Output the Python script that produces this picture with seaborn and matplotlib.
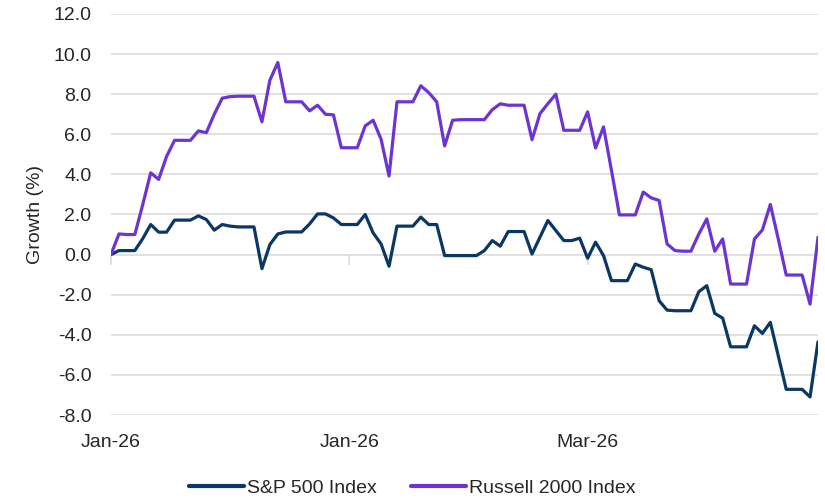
import pandas as pd
import numpy as np
import matplotlib
matplotlib.use("Agg")
import matplotlib.pyplot as plt
import seaborn as sns

# ==========================================
# data: daily growth (%) since 1 Jan 2026, weekends carried forward
# ==========================================
sp500 = [
    0.0, 0.2, 0.2, 0.2, 0.8, 1.5, 1.12, 1.12, 1.72, 1.72,
    1.72, 1.93, 1.75, 1.22, 1.5, 1.42, 1.38, 1.38, 1.38, -0.7,
    0.5, 1.03, 1.13, 1.13, 1.13, 1.53, 2.03, 2.03, 1.83, 1.5,
    1.5, 1.5, 2.0, 1.08, 0.53, -0.58, 1.42, 1.42, 1.42, 1.87,
    1.5, 1.5, -0.05, -0.05, -0.05, -0.05, -0.05, 0.2, 0.7, 0.42,
    1.15, 1.15, 1.15, 0.03, 0.87, 1.7, 1.2, 0.7, 0.7, 0.82,
    -0.18, 0.62, -0.05, -1.3, -1.3, -1.3, -0.47, -0.63, -0.75, -2.3,
    -2.77, -2.8, -2.8, -2.8, -1.85, -1.55, -2.93, -3.17, -4.6, -4.6,
    -4.6, -3.55, -3.93, -3.38, -5.05, -6.72, -6.72, -6.72, -7.1, -4.35,
]
russell = [
    0.0, 1.03, 1.0, 1.0, 2.5, 4.08, 3.75, 4.9, 5.7, 5.7,
    5.7, 6.17, 6.08, 7.0, 7.8, 7.88, 7.9, 7.9, 7.9, 6.62,
    8.7, 9.58, 7.62, 7.62, 7.62, 7.17, 7.45, 7.0, 6.97, 5.33,
    5.33, 5.33, 6.42, 6.7, 5.75, 3.92, 7.62, 7.62, 7.62, 8.42,
    8.08, 7.62, 5.42, 6.7, 6.73, 6.73, 6.73, 6.73, 7.23, 7.52,
    7.45, 7.45, 7.45, 5.73, 7.03, 7.53, 8.0, 6.2, 6.2, 6.2,
    7.12, 5.32, 6.37, 4.2, 1.98, 1.98, 1.98, 3.12, 2.83, 2.7,
    0.53, 0.2, 0.17, 0.17, 1.03, 1.78, 0.17, 0.78, -1.47, -1.47,
    -1.47, 0.78, 1.23, 2.5, 0.78, -1.02, -1.02, -1.02, -2.47, 0.87,
]
series_names = ["S&P 500 Index", "Russell 2000 Index"]
series_colors = ["#0B3764", "#6C35D2"]
tick_days = [0, 30, 60]
tick_labels = ["Jan-26", "Jan-26", "Mar-26"]
y_ticks = [-8, -6, -4, -2, 0, 2, 4, 6, 8, 10, 12]

day = np.arange(len(sp500))
df = pd.concat([
    pd.DataFrame({"day": day, "growth": sp500, "series": series_names[0]}),
    pd.DataFrame({"day": day, "growth": russell, "series": series_names[1]}),
])

# ==========================================
# style
# ==========================================
sns.set_style("white")
plt.rcParams["font.family"] = ["Liberation Sans", "DejaVu Sans"]
plt.rcParams["font.size"] = 14
TEXT = "#262626"
GRID = "#D9D9D9"

fig = plt.figure(figsize=(8.25, 5), dpi=100)
ax = fig.add_axes([111 / 825, 1 - 415 / 500, 707 / 825, 401 / 500])

sns.lineplot(
    data=df, x="day", y="growth", hue="series",
    palette=dict(zip(series_names, series_colors)),
    linewidth=2.3, ax=ax, zorder=3,
)

ax.set_xlim(0, len(sp500) - 1)
ax.set_ylim(-8, 12)
ax.set_yticks(y_ticks)
ax.set_yticklabels([f"{v:.1f}" for v in y_ticks], color=TEXT, fontsize=14)
ax.yaxis.grid(True, color=GRID, linewidth=1.1)
ax.set_axisbelow(True)
for s in ax.spines.values():
    s.set_visible(False)

ax.set_xticks(tick_days)
ax.set_xticklabels(tick_labels, color=TEXT, fontsize=14)
ax.tick_params(axis="x", length=0, pad=14)
ax.tick_params(axis="y", length=0, pad=14)
ax.set_xlabel("")
ax.set_ylabel("Growth (%)", color=TEXT, fontsize=14)
ax.yaxis.set_label_coords(-0.095, 0.5)

# tick marks sit on the zero line, as in the original category axis
sec = ax.secondary_xaxis(0.4)
sec.set_xticks(tick_days)
sec.tick_params(axis="x", direction="out", length=7, width=1.1,
                color=GRID, labelbottom=False)
sec.spines["bottom"].set_visible(False)

sns.move_legend(
    ax, "center", bbox_to_anchor=(0.426, -0.182), ncol=2, frameon=False,
    title=None, fontsize=14, handlelength=2.8, handletextpad=0.15,
    columnspacing=1.8,
)
for line in ax.get_legend().get_lines():
    line.set_linewidth(3)
for text in ax.get_legend().get_texts():
    text.set_color(TEXT)

fig.savefig("out.png", dpi=100)
